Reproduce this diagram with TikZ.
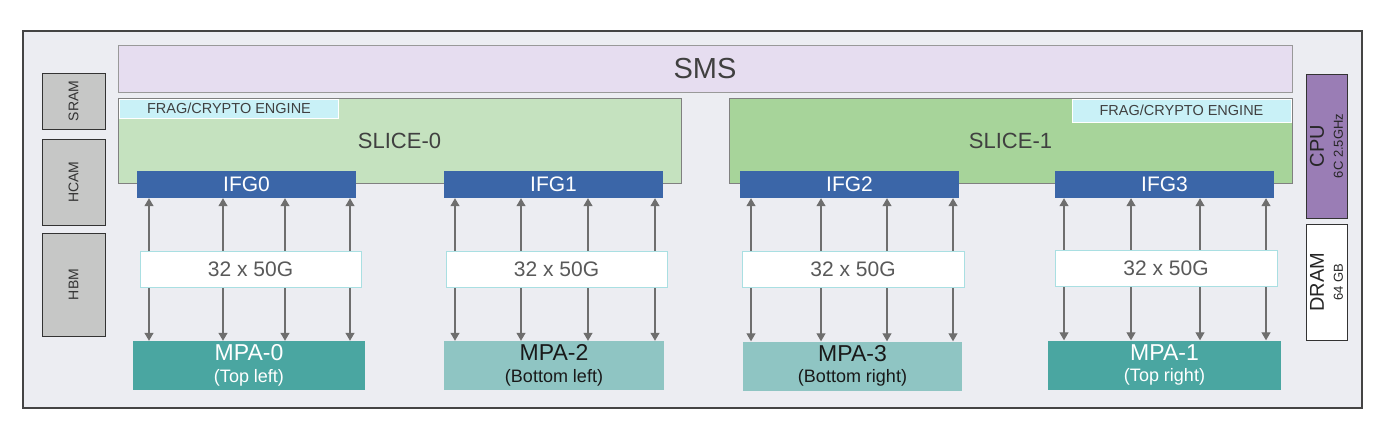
\documentclass[tikz,border=0pt]{standalone}
\usepackage{fontspec}
\setmainfont{Liberation Sans}
\usepackage{tikz}
\usetikzlibrary{shapes, arrows.meta}

\definecolor{chipbg}{HTML}{ECEDF2}
\definecolor{chipline}{HTML}{444444}
\definecolor{smsfill}{HTML}{E6DDF0}
\definecolor{memfill}{HTML}{C6C7C6}
\definecolor{slicea}{HTML}{C5E2BF}
\definecolor{sliceb}{HTML}{A7D49A}
\definecolor{fragfill}{HTML}{C9F1F7}
\definecolor{ifgblue}{HTML}{3B66A8}
\definecolor{ratebord}{HTML}{A9DFE2}
\definecolor{mpadark}{HTML}{4AA6A1}
\definecolor{mpalight}{HTML}{8FC5C3}
\definecolor{cpufill}{HTML}{9A7DB5}
\definecolor{linkgray}{HTML}{6E6E6E}

\newcommand{\mpasub}{\fontsize{18}{21.5}\selectfont}
\newcommand{\hostsub}{\fontsize{13}{19}\selectfont}

\begin{document}
\begin{tikzpicture}[x=1pt, y=-1pt,
        chip/.style = {draw=chipline, fill=chipbg, line width=1.4pt, inner sep=0pt},
        sms/.style = {draw=black!40, fill=smsfill, line width=0.9pt, inner sep=0pt, font=\fontsize{29}{29}\selectfont, text=black!75},
        mem/.style = {draw=black!80, fill=memfill, line width=1pt, inner sep=0pt, rotate=90, minimum height=63pt, font=\fontsize{14}{14}\selectfont, text=black!80},
        slice/.style = {draw=black!50, line width=0.8pt, inner sep=0pt, minimum width=563pt, minimum height=85pt, font=\fontsize{22}{22}\selectfont, text=black!75},
        frag/.style = {draw=white, fill=fragfill, line width=0.8pt, inner sep=0pt, minimum width=219pt, font=\fontsize{14.5}{14.5}\selectfont, text=black!75},
        ifg/.style = {fill=ifgblue, inner sep=0pt, minimum width=219pt, minimum height=27pt, font=\fontsize{21}{21}\selectfont, text=white},
        rate/.style = {draw=ratebord, fill=white, line width=0.8pt, inner sep=0pt, minimum width=222pt, minimum height=36pt, font=\fontsize{21}{21}\selectfont, text=black!65},
        mpa/.style = {inner sep=0pt, minimum height=49pt, align=center, font=\fontsize{23}{21.5}\selectfont},
        host/.style = {draw=black!80, line width=1pt, inner sep=0pt, rotate=90, minimum height=41pt, align=center, text=black!85, font=\fontsize{20}{19}\selectfont},
        link/.style = {draw=linkgray, line width=1.2pt, <->, >={Triangle[width=9pt, length=8pt]}}]
    \useasboundingbox (0, 0) rectangle (1398, 442);

    \node[chip, minimum width=1339pt, minimum height=377pt] at (692.5, 219.5) (chip) {};
    \node[sms, minimum width=1174pt, minimum height=47pt] at (705, 68.5) (sms) {SMS};

    % memories on the left
    \node[mem, minimum width=56pt] at (73.5, 101) (sram) {SRAM};
    \node[mem, minimum width=86pt] at (73.5, 182) (hcam) {HCAM};
    \node[mem, minimum width=103pt] at (73.5, 284.5) (hbm) {HBM};

    % slices
    \node[slice, fill=slicea] at (399.5, 140.5) (slice0) {SLICE-0};
    \node[slice, fill=sliceb] at (1010.5, 140.5) (slice1) {SLICE-1};
    \node[frag, minimum height=19pt] at (229, 108.5) (frag0) {FRAG/CRYPTO ENGINE};
    \node[frag, minimum height=23pt] at (1181.5, 110.5) (frag1) {FRAG/CRYPTO ENGINE};

    \node[ifg] at (246.5, 184.5) (ifg0) {IFG0};
    \node[ifg] at (553.5, 184.5) (ifg1) {IFG1};
    \node[ifg] at (849.5, 184.5) (ifg2) {IFG2};
    \node[ifg] at (1164.5, 184.5) (ifg3) {IFG3};

    \node[mpa, fill=mpadark, text=white, minimum width=232pt] at (249, 365.5) (mpa0) {MPA-0\\\mpasub (Top left)};
    \node[mpa, fill=mpalight, text=black!90, minimum width=220pt] at (554, 365.5) (mpa2) {MPA-2\\\mpasub (Bottom left)};
    \node[mpa, fill=mpalight, text=black!90, minimum width=219pt] at (852.5, 366) (mpa3) {MPA-3\\\mpasub (Bottom right)};
    \node[mpa, fill=mpadark, text=white, minimum width=233pt] at (1164.5, 365) (mpa1) {MPA-1\\\mpasub (Top right)};

    \foreach \x in {149, 223, 285, 350}
        \draw [link] (\x, 0 |- ifg0.south) -- (\x, 0 |- mpa0.north);
    \foreach \x in {455, 521, 588, 655}
        \draw [link] (\x, 0 |- ifg1.south) -- (\x, 0 |- mpa2.north);
    \foreach \x in {751, 821, 887, 953}
        \draw [link] (\x, 0 |- ifg2.south) -- (\x, 0 |- mpa3.north);
    \foreach \x in {1064, 1131, 1200, 1266}
        \draw [link] (\x, 0 |- ifg3.south) -- (\x, 0 |- mpa1.north);

    \node[rate, minimum width=221pt] at (250.5, 269) (rate0) {32 x 50G};
    \node[rate, minimum width=221pt] at (556.5, 269) (rate1) {32 x 50G};
    \node[rate] at (853, 269) (rate2) {32 x 50G};
    \node[rate] at (1166, 268) (rate3) {32 x 50G};

    % cpu and dram on the right
    \node[host, fill=cpufill, minimum width=144pt] at (1326.5, 146) (cpu) {CPU\\\hostsub 6C 2.5GHz};
    \node[host, fill=white, minimum width=116pt] at (1326.5, 282) (dram) {DRAM\\\hostsub 64 GB};
\end{tikzpicture}
\end{document}
